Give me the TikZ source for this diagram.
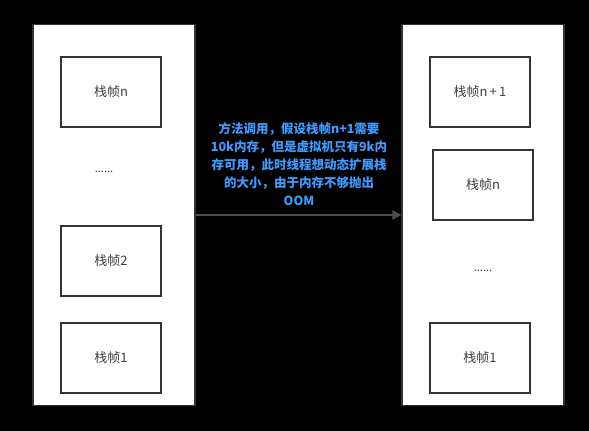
\documentclass[tikz,border=0pt]{standalone}
\usepackage{fontspec}
\newfontfamily\cjk{Noto Sans CJK SC}
\usetikzlibrary{arrows.meta}
\definecolor{boxline}{HTML}{333333}
\definecolor{notecol}{HTML}{3D9BFF}
\definecolor{arrowcol}{HTML}{4D4D4D}
\begin{document}
\begin{tikzpicture}[x=1pt,y=-1pt,
  stack/.style={draw=boxline,line width=1.2pt,fill=white},
  frame/.style={draw=boxline,line width=1.5pt,fill=white,minimum width=100pt,minimum height=70pt,inner sep=0pt,font=\cjk\fontsize{13}{15}\selectfont,text=black!75},
  dots/.style={font=\cjk\fontsize{11}{12}\selectfont,text=black!75},
  note/.style={align=center,font=\cjk\bfseries\fontsize{12.5}{18}\selectfont,text=notecol}]
\useasboundingbox[fill=black] (0,0) rectangle (589,431);
% stacks
\node[stack,minimum width=162pt,minimum height=381pt,inner sep=0pt] (L) at (114,215) {};
\node[stack,minimum width=162pt,minimum height=381pt,inner sep=0pt] (R) at (483,215) {};
% left frames
\node[frame] (ln) at (111,92) {栈帧n};
\node[dots] (ld) at (104,172) {......};
\node[frame] (l2) at (111,261) {栈帧2};
\node[frame] (l1) at (111,358) {栈帧1};
% right frames
\node[frame] (rn1) at (480,92) {栈帧n\,+\,1};
\node[frame] (rn) at (483,185) {栈帧n};
\node[dots] (rd) at (483,271) {......};
\node[frame] (r1) at (480,358) {栈帧1};
% arrow
\coordinate (a0) at (L.east |- 0,215);
\coordinate (a1) at (R.west |- 0,215);
\draw[arrowcol,line width=2pt,-{Triangle[length=9pt,width=9pt]}] (a0) -- (a1);
\node[note] (txt) at (299,164) {方法调用，假设栈帧n+1需要\\10k内存，但是虚拟机只有9k内\\存可用，此时线程想动态扩展栈\\的大小，由于内存不够抛出\\OOM};
\end{tikzpicture}
\end{document}
